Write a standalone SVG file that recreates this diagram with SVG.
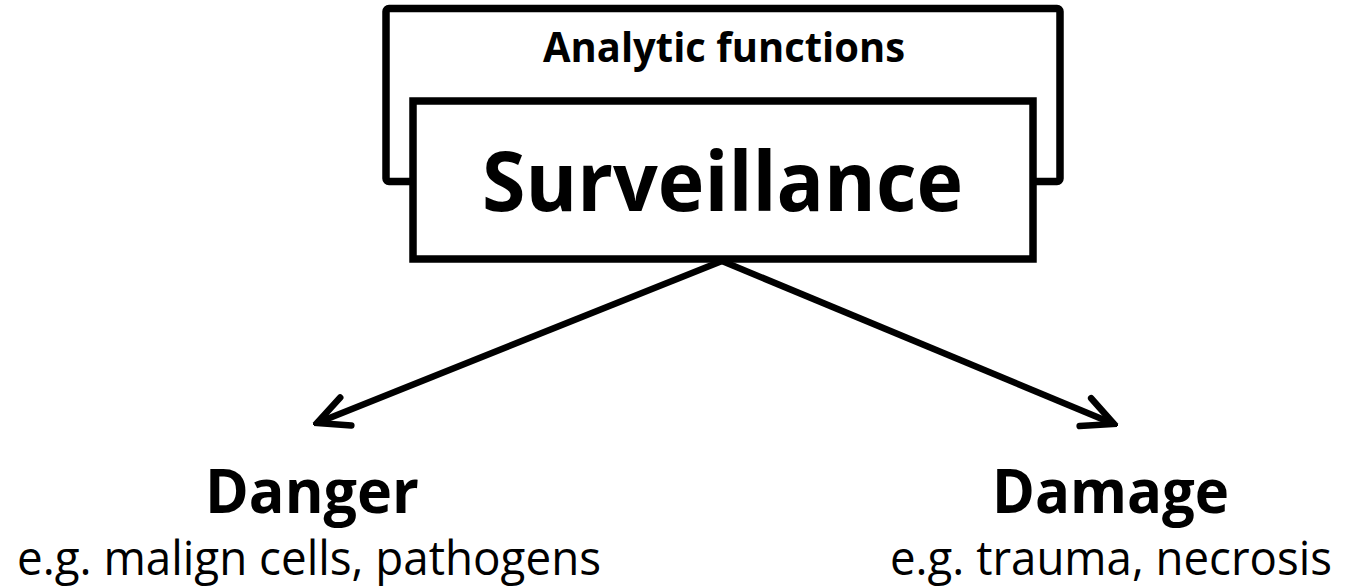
<svg xmlns="http://www.w3.org/2000/svg" width="1350" height="587" viewBox="0 0 1350 587">
  <style>
    .box { fill: #ffffff; stroke: #000000; stroke-width: 7.5; }
    .bold { font-family: "Open Sans", "Liberation Sans", sans-serif; font-weight: 700; fill: #000000; }
    .reg { font-family: "Open Sans", "Liberation Sans", sans-serif; font-weight: 400; fill: #000000; }
    .conn { fill: none; stroke: #000000; stroke-width: 6.5; }
  </style>
  <defs>
    <marker id="arrow" markerUnits="userSpaceOnUse" viewBox="-40 -20 44 40" refX="0" refY="0" markerWidth="44" markerHeight="40" orient="auto">
      <path d="M -31,-15 L 0,0 L -31,15" fill="none" stroke="#000000" stroke-width="6.5" stroke-linecap="round" stroke-linejoin="miter"/>
    </marker>
  </defs>
  <rect width="1350" height="587" fill="#ffffff"/>
  <g id="analytic-functions">
    <rect class="box" x="386" y="8.5" width="674" height="173" rx="3"/>
    <text class="bold" x="543" y="62" font-size="42" textLength="362" lengthAdjust="spacingAndGlyphs">Analytic functions</text>
  </g>
  <g id="surveillance">
    <rect class="box" x="413" y="101" width="620" height="158"/>
    <text class="bold" x="482" y="211" font-size="83" textLength="481" lengthAdjust="spacingAndGlyphs">Surveillance</text>
  </g>
  <g id="connectors">
    <path class="conn" d="M 722,261 L 317,423" marker-end="url(#arrow)"/>
    <path class="conn" d="M 722,261 L 1114,424" marker-end="url(#arrow)"/>
  </g>
  <g id="danger">
    <text class="bold" x="205" y="513" font-size="60" textLength="214" lengthAdjust="spacingAndGlyphs">Danger</text>
    <text class="reg" x="17" y="575" font-size="47" textLength="584" lengthAdjust="spacingAndGlyphs">e.g. malign cells, pathogens</text>
  </g>
  <g id="damage">
    <text class="bold" x="992" y="513" font-size="60" textLength="237" lengthAdjust="spacingAndGlyphs">Damage</text>
    <text class="reg" x="890" y="575" font-size="47" textLength="442" lengthAdjust="spacingAndGlyphs">e.g. trauma, necrosis</text>
  </g>
</svg>
